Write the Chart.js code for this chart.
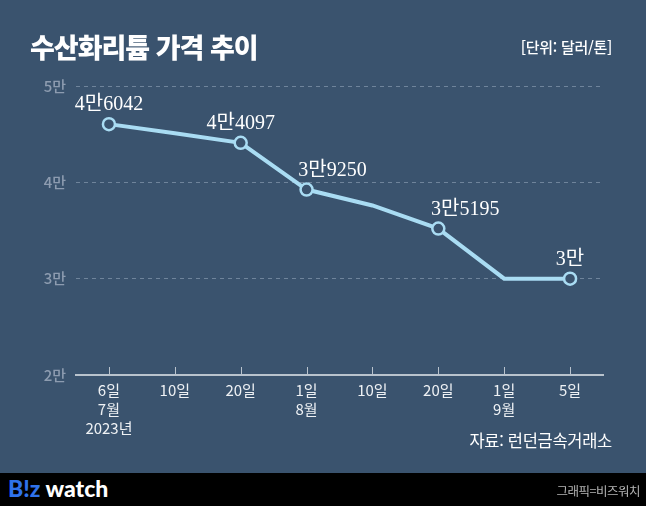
<!DOCTYPE html>
<html lang="ko">
<head>
<meta charset="utf-8">
<script src="https://cdn.jsdelivr.net/npm/chart.js@4.4.0/dist/chart.umd.min.js"></script>
<style>
  html, body { margin: 0; padding: 0; }
  body { width: 646px; height: 506px; background: #3a536e; position: relative; overflow: hidden; font-family: 'Noto Sans CJK KR', 'Noto Sans', sans-serif; }
  #wrap { position: absolute; left: 0; top: 0; width: 646px; height: 473px; }
  .title { position: absolute; left: 30px; top: 29px; color: #fff; font-size: 27px; font-weight: 800; letter-spacing: -1px; line-height: 36px; }
  .unit { position: absolute; right: 34px; top: 37px; color: #fff; font-size: 15px; font-weight: 500; letter-spacing: -0.3px; line-height: 20px; }
  .source { position: absolute; right: 34px; top: 429px; color: #fff; font-size: 16.5px; letter-spacing: -0.3px; line-height: 22px; }
  .footer { position: absolute; left: 0; top: 473px; width: 646px; height: 33px; background: #000; }
  .logo { position: absolute; left: 8px; top: 1px; font-family: 'Lato', 'DejaVu Sans', sans-serif; font-weight: 900; font-size: 23px; color: #fff; letter-spacing: 0px; }
  .logo b { color: #2f72ea; font-weight: 900; }
  .credit { position: absolute; right: 6px; top: 8px; font-size: 12.5px; color: #b5b5b5; letter-spacing: -0.5px; }
</style>
</head>
<body>
<div id="wrap"><canvas id="c"></canvas></div>
<div class="title">수산화리튬 가격 추이</div>
<div class="unit">[단위: 달러/톤]</div>
<div class="source">자료: 런던금속거래소</div>
<div class="footer"><div class="logo"><b>B!z</b> watch</div><div class="credit">그래픽=비즈워치</div></div>
<script>
const categories = [['6일', '7월', '2023년'], '10일', '20일', ['1일', '8월'], '10일', '20일', ['1일', '9월'], '5일'];
const prices = [46042, 45100, 44097, 39250, 37600, 35195, 30000, 30000];
const labelled = [true, false, true, true, false, true, false, true];
const priceLabels = ['4만6042', '', '4만4097', '3만9250', '', '3만5195', '', '3만'];
const yTicks = [20000, 30000, 40000, 50000];
const yTickLabels = ['2만', '3만', '4만', '5만'];

const BG = '#3a536e';
const LINE = '#a9dcf3';
const labelShift = [0, 0, 0, 26, 0, 27, 0, 0];

// labels above the marked points
const valueLabels = {
  id: 'valueLabels',
  afterDatasetsDraw(chart) {
    const ctx = chart.ctx;
    const meta = chart.getDatasetMeta(0);
    ctx.save();
    ctx.font = "20px 'Liberation Serif', 'Noto Sans CJK KR', serif";
    ctx.fillStyle = '#ffffff';
    ctx.textAlign = 'center';
    ctx.textBaseline = 'alphabetic';
    meta.data.forEach((pt, i) => {
      if (!labelled[i]) return;
      ctx.fillText(priceLabels[i], pt.x + labelShift[i], pt.y - 14);
    });
    ctx.restore();
  }
};

// small tick marks sitting on top of the x axis line
const innerTicks = {
  id: 'innerTicks',
  afterDraw(chart) {
    const ctx = chart.ctx;
    const x = chart.scales.x;
    const bottom = chart.chartArea.bottom;
    ctx.save();
    ctx.strokeStyle = '#b9c3cd';
    ctx.lineWidth = 1;
    x.ticks.forEach((t, i) => {
      const px = Math.round(x.getPixelForTick(i)) + 0.5;
      ctx.beginPath();
      ctx.moveTo(px, bottom - 8);
      ctx.lineTo(px, bottom);
      ctx.stroke();
    });
    ctx.restore();
  }
};

new Chart(document.getElementById('c'), {
  type: 'line',
  data: {
    labels: categories,
    datasets: [{
      data: prices,
      borderColor: LINE,
      borderWidth: 4,
      tension: 0,
      pointRadius: labelled.map(v => v ? 6 : 0),
      pointHoverRadius: labelled.map(v => v ? 6 : 0),
      pointBackgroundColor: BG,
      pointBorderColor: LINE,
      pointBorderWidth: 2.5
    }]
  },
  options: {
    responsive: true,
    maintainAspectRatio: false,
    animation: false,
    events: [],
    layout: { padding: { top: 86, right: 43, left: 0, bottom: 0 } },
    plugins: { legend: { display: false }, tooltip: { enabled: false } },
    scales: {
      x: {
        offset: true,
        afterFit: (s) => { s.height = 98; },
        grid: { display: false, drawTicks: false },
        border: { display: true, color: '#b9c3cd', width: 2 },
        ticks: {
          color: '#eef1f4',
          padding: 6,
          maxRotation: 0,
          autoSkip: false,
          font: { family: "'Noto Sans CJK KR', sans-serif", size: 15, lineHeight: 1.27 }
        }
      },
      y: {
        min: 20000,
        max: 50000,
        afterFit: (s) => { s.width = 76; },
        afterBuildTicks: (s) => { s.ticks = yTicks.map(v => ({ value: v })); },
        border: { display: false, dash: [4, 4] },
        grid: {
          color: (c) => c.tick && c.tick.value === 20000 ? 'rgba(0,0,0,0)' : '#6f849b',
          lineWidth: 1,
          drawTicks: false
        },
        ticks: {
          color: '#8d9cb0',
          padding: 10,
          font: { family: "'Noto Sans CJK KR', sans-serif", size: 15, weight: '500' },
          callback: (v) => yTickLabels[yTicks.indexOf(v)]
        }
      }
    }
  },
  plugins: [valueLabels, innerTicks]
});
</script>
</body>
</html>
